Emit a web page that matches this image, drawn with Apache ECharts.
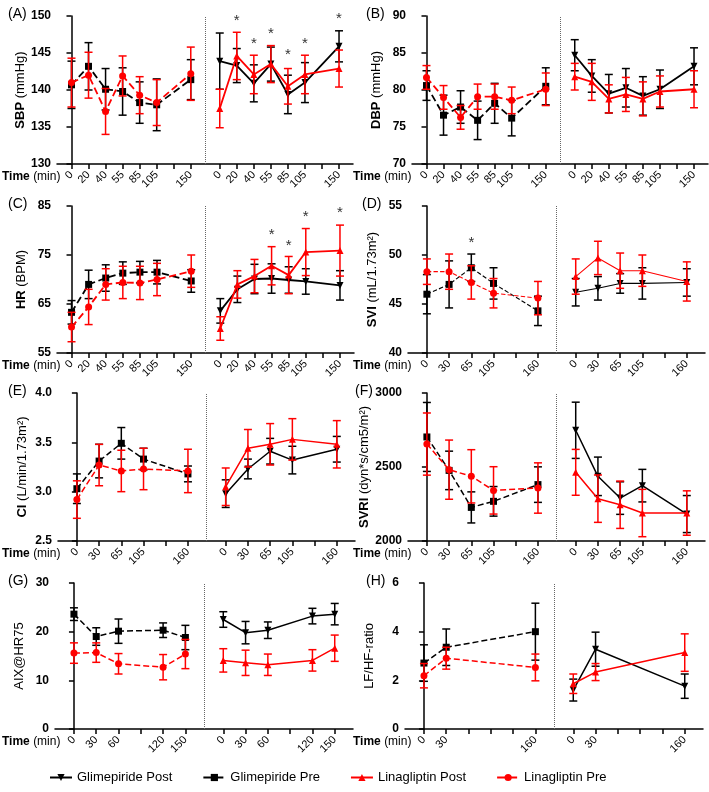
<!DOCTYPE html>
<html><head><meta charset="utf-8">
<script src="https://cdn.jsdelivr.net/npm/echarts@6/dist/echarts.min.js"></script>
<style>html,body{margin:0;padding:0;background:#fff}#c{width:709px;height:792px}</style>
</head><body><div id="c"></div>
<script>
// ---------- categories / tick labels ----------
const timesBP   = ['0','20','40','55','85','105','','150'];
const timesHemo = ['0','30','65','105','','160'];
const timesAix  = ['0','30','60','','120','150'];
const timesLfhf = ['0','30','','','','160'];

// ---------- (A) SBP ----------
const sbpGlimPre     = [140.7, 143.2, 140.1, 139.8, 138.3, 138.0, null, 141.4];
const sbpGlimPreErr  = [3.2, 3.2, 2.8, 3.2, 2.8, 3.5, null, 2.7];
const sbpLinaPre     = [141.0, 142.0, 137.1, 141.9, 139.3, 138.3, null, 142.2];
const sbpLinaPreErr  = [3.3, 3.1, 3.1, 2.7, 2.5, 3.1, null, 3.6];
const sbpGlimPost    = [143.9, 143.3, 140.9, 143.5, 139.4, 141.0, null, 145.9];
const sbpGlimPostErr = [3.8, 2.3, 2.5, 2.3, 2.6, 2.7, null, 2.1];
const sbpLinaPost    = [137.5, 144.6, 142.1, 143.5, 140.5, 142.1, null, 142.9];
const sbpLinaPostErr = [2.6, 3.2, 2.6, 2.5, 2.4, 2.6, null, 2.5];
const sbpStarsPost   = [null, 149.3, 146.3, 147.6, 144.7, 146.3, null, 149.6];

// ---------- (B) DBP ----------
const dbpGlimPre     = [80.6, 76.6, 77.7, 75.9, 78.2, 76.2, null, 80.5];
const dbpGlimPreErr  = [2.0, 2.7, 2.2, 2.6, 2.7, 2.4, null, 2.5];
const dbpLinaPre     = [81.7, 79.0, 76.3, 79.1, 79.1, 78.6, null, 80.1];
const dbpLinaPreErr  = [1.6, 1.6, 1.6, 1.7, 1.7, 1.8, null, 2.2];
const dbpGlimPost    = [84.7, 81.9, 79.5, 80.3, 79.2, 80.1, null, 83.2];
const dbpGlimPostErr = [2.1, 2.2, 2.6, 2.6, 2.6, 2.6, null, 2.5];
const dbpLinaPost    = [81.8, 81.1, 78.8, 79.4, 78.8, 79.8, null, 80.1];
const dbpLinaPostErr = [1.8, 2.5, 1.9, 2.3, 2.3, 2.1, null, 2.5];

// ---------- (C) HR ----------
const hrGlimPre      = [63.3, 69.0, 70.3, 71.3, 71.5, 71.5, null, 69.7];
const hrGlimPreErr   = [2.4, 2.9, 2.7, 2.3, 2.2, 2.4, null, 2.3];
const hrLinaPre      = [60.3, 64.4, 69.0, 69.4, 69.3, 70.0, null, 71.7];
const hrLinaPreErr   = [3.0, 3.6, 3.2, 3.3, 3.4, 3.3, null, 3.3];
const hrGlimPost     = [63.6, 68.0, 70.1, 70.2, 69.9, 69.6, null, 68.8];
const hrGlimPostErr  = [2.5, 2.7, 3.0, 3.0, 2.7, 2.6, null, 3.0];
const hrLinaPost     = [60.0, 69.0, 70.7, 72.8, 70.9, 75.6, null, 75.9];
const hrLinaPostErr  = [2.4, 2.8, 3.4, 3.9, 3.8, 4.8, null, 5.2];
const hrStarsPost    = [null, null, null, 79.2, 76.8, 82.7, null, 83.5];

// ---------- (D) SVI ----------
const sviGlimPre     = [46.0, 47.0, 48.7, 47.1, null, 44.3];
const sviGlimPreErr  = [2.0, 2.4, 1.4, 1.6, null, 1.5];
const sviLinaPre     = [48.3, 48.3, 47.2, 46.1, null, 45.6];
const sviLinaPreErr  = [1.3, 1.8, 1.7, 1.5, null, 1.7];
const sviGlimPost    = [46.2, 46.6, 47.1, 47.1, null, 47.2];
const sviGlimPostErr = [1.4, 1.2, 1.0, 1.6, null, 1.4];
const sviLinaPost    = [47.8, 49.7, 48.4, 48.4, null, 47.3];
const sviLinaPostErr = [1.8, 1.7, 1.8, 1.6, null, 2.0];
const sviStarsPre    = [null, null, 51.2, null, null, null];

// ---------- (E) CI ----------
const ciGlimPre      = [3.03, 3.31, 3.49, 3.33, null, 3.18];
const ciGlimPreErr   = [0.15, 0.17, 0.16, 0.11, null, 0.08];
const ciLinaPre      = [2.92, 3.27, 3.21, 3.23, null, 3.21];
const ciLinaPreErr   = [0.19, 0.21, 0.21, 0.21, null, 0.22];
const ciGlimPost     = [2.98, 3.23, 3.41, 3.32, null, 3.43];
const ciGlimPostErr  = [0.14, 0.10, 0.13, 0.14, null, 0.13];
const ciLinaPost     = [3.05, 3.44, 3.48, 3.53, null, 3.48];
const ciLinaPostErr  = [0.19, 0.19, 0.21, 0.21, null, 0.24];

// ---------- (F) SVRI ----------
const svriGlimPre     = [2703, 2477, 2227, 2268, null, 2381];
const svriGlimPreErr  = [233, 130, 105, 100, null, 120];
const svriLinaPre     = [2655, 2482, 2437, 2342, null, 2358];
const svriLinaPreErr  = [210, 200, 180, 160, null, 170];
const svriGlimPost    = [2748, 2437, 2290, 2374, null, 2182];
const svriGlimPostErr = [190, 130, 110, 110, null, 125];
const svriLinaPost    = [2464, 2286, 2245, 2189, null, 2189];
const svriLinaPostErr = [155, 160, 160, 160, null, 150];

// ---------- (G) AIX@HR75 ----------
const aixGlimPre     = [23.6, 19.0, 20.1, null, 20.3, 18.8];
const aixGlimPreErr  = [1.3, 1.8, 2.5, null, 1.5, 2.5];
const aixLinaPre     = [15.6, 15.7, 13.4, null, 12.7, 15.4];
const aixLinaPreErr  = [2.1, 2.0, 2.1, null, 2.6, 3.0];
const aixGlimPost    = [22.5, 19.8, 20.3, null, 23.2, 23.6];
const aixGlimPostErr = [1.6, 2.3, 1.7, null, 1.6, 2.2];
const aixLinaPost    = [14.1, 13.6, 13.2, null, 14.1, 16.6];
const aixLinaPostErr = [2.4, 2.6, 2.2, null, 2.2, 2.7];

// ---------- (H) LF/HF ----------
const lfGlimPre      = [2.71, 3.36, null, null, null, 4.0];
const lfGlimPreErr   = [0.75, 0.75, null, null, null, 1.17];
const lfLinaPre      = [2.19, 2.91, null, null, null, 2.53];
const lfLinaPreErr   = [0.5, 0.45, null, null, null, 0.55];
const lfGlimPost     = [1.6, 3.28, null, null, null, 1.76];
const lfGlimPostErr  = [0.45, 0.7, null, null, null, 0.5];
const lfLinaPost     = [1.86, 2.34, null, null, null, 3.14];
const lfLinaPostErr  = [0.4, 0.35, null, null, null, 0.77];

const seriesNames = ['Glimepiride Post', 'Glimepiride Pre', 'Linagliptin Post', 'Linagliptin Pre'];

// ---------- panel configuration ----------
const panels = [
  {letter:'(A)', lx:8, grid:[57,16,296,148], times:timesBP, y:[130,150,5], yName:'{b|SBP} (mmHg)', lw:1.8,
   d:[[sbpGlimPost,sbpGlimPostErr],[sbpGlimPre,sbpGlimPreErr],[sbpLinaPost,sbpLinaPostErr],[sbpLinaPre,sbpLinaPreErr]], stars:[sbpStarsPost,'post']},
  {letter:'(B)', lx:366, grid:[412,16,296,148], times:timesBP, y:[70,90,5], yName:'{b|DBP} (mmHg)', lw:1.8,
   d:[[dbpGlimPost,dbpGlimPostErr],[dbpGlimPre,dbpGlimPreErr],[dbpLinaPost,dbpLinaPostErr],[dbpLinaPre,dbpLinaPreErr]]},
  {letter:'(C)', lx:8, grid:[57,206,297,147], times:timesBP, y:[55,85,10], yName:'{b|HR} (BPM)', lw:1.8,
   d:[[hrGlimPost,hrGlimPostErr],[hrGlimPre,hrGlimPreErr],[hrLinaPost,hrLinaPostErr],[hrLinaPre,hrLinaPreErr]], stars:[hrStarsPost,'post']},
  {letter:'(D)', lx:362, grid:[408,206,297,147], times:timesHemo, y:[40,55,5], yName:'{b|SVI} (mL/1.73m²)', lw:1.1,
   d:[[sviGlimPost,sviGlimPostErr],[sviGlimPre,sviGlimPreErr],[sviLinaPost,sviLinaPostErr],[sviLinaPre,sviLinaPreErr]], stars:[sviStarsPre,'pre']},
  {letter:'(E)', lx:8, grid:[58,393,297,148], times:timesHemo, y:[2.5,4,0.5], yName:'{b|CI} (L/min/1.73m²)', lw:1.5, dec:1,
   d:[[ciGlimPost,ciGlimPostErr],[ciGlimPre,ciGlimPreErr],[ciLinaPost,ciLinaPostErr],[ciLinaPre,ciLinaPreErr]]},
  {letter:'(F)', lx:355, grid:[408,393,297,148], times:timesHemo, y:[2000,3000,500], yName:'{b|SVRI} (dyn*s/cm5/m²)', lw:1.5,
   d:[[svriGlimPost,svriGlimPostErr],[svriGlimPre,svriGlimPreErr],[svriLinaPost,svriLinaPostErr],[svriLinaPre,svriLinaPreErr]]},
  {letter:'(G)', lx:8, grid:[55,583,298,146], times:timesAix, y:[0,30,10], yName:'AIX@HR75', lw:1.5,
   d:[[aixGlimPost,aixGlimPostErr],[aixGlimPre,aixGlimPreErr],[aixLinaPost,aixLinaPostErr],[aixLinaPre,aixLinaPreErr]]},
  {letter:'(H)', lx:366, grid:[405,583,298,146], times:timesLfhf, y:[0,6,2], yName:'LF/HF-ratio', lw:1.5,
   d:[[lfGlimPost,lfGlimPostErr],[lfGlimPre,lfGlimPreErr],[lfLinaPost,lfLinaPostErr],[lfLinaPre,lfLinaPreErr]]}
];

const FONT = '"Liberation Sans", Arial, sans-serif';
const styles = [
  {color:'#000', type:'solid',  symbol:'path://M0,0 L10,0 L5,9 Z', side:'post', z:3},
  {color:'#000', type:'dashed', symbol:'rect',     side:'pre',  z:3},
  {color:'#ff0000', type:'solid',  symbol:'triangle', side:'post', z:4},
  {color:'#ff0000', type:'dashed', symbol:'circle',   side:'pre',  z:4}
];

function posOf(i, side, n) { return side === 'pre' ? i : n + 0.7 + i; }

function errRenderer(color) {
  return function (params, api) {
    const x = api.value(0), lo = api.value(1), hi = api.value(2);
    const t = api.coord([x, hi]), b = api.coord([x, lo]);
    const w = 4;
    const st = {stroke: color, lineWidth: 1.5, fill: null};
    return {type:'group', children:[
      {type:'line', shape:{x1:t[0], y1:t[1], x2:b[0], y2:b[1]}, style:st},
      {type:'line', shape:{x1:t[0]-w, y1:t[1], x2:t[0]+w, y2:t[1]}, style:st},
      {type:'line', shape:{x1:b[0]-w, y1:b[1], x2:b[0]+w, y2:b[1]}, style:st}
    ]};
  };
}
function starRenderer(params, api) {
  const p = api.coord([api.value(0), api.value(1)]);
  return {type:'text', x:p[0], y:p[1], style:{text:'*', fill:'#333', font:'15px ' + FONT, align:'center', verticalAlign:'middle'}};
}

const grid = [], xAxis = [], yAxis = [], series = [], graphic = [];

panels.forEach((p, k) => {
  const n = p.times.length;
  grid.push({left:p.grid[0], top:p.grid[1], width:p.grid[2], height:p.grid[3], containLabel:false});
  const tickPos = [], labPos = [], labTxt = [];
  for (const side of ['pre','post']) {
    p.times.forEach((t, i) => {
      const v = posOf(i, side, n);
      tickPos.push(v);
      if (t !== '') { labPos.push(v); labTxt.push(t); }
    });
  }
  xAxis.push({
    type:'value', gridIndex:k, min:-0.85, max: n + 0.7 + (n - 1) + 0.82,
    axisLine:{show:true, onZero:false, lineStyle:{color:'#000', width:1.5}},
    axisTick:{show:true, customValues:tickPos, length:5, lineStyle:{color:'#000', width:1.5}},
    axisLabel:{show:true, customValues:labPos, rotate:45, fontSize:11, color:'#000', fontFamily:FONT, margin:9,
      formatter: v => { const j = labPos.findIndex(q => Math.abs(q - v) < 0.01); return j >= 0 ? labTxt[j] : ''; }},
    splitLine:{show:false}
  });
  yAxis.push({
    type:'value', gridIndex:k, min:p.y[0], max:p.y[1], interval:p.y[2],
    axisLine:{show:true, lineStyle:{color:'#000', width:1.5}},
    axisTick:{show:true, length:5, lineStyle:{color:'#000', width:1.5}},
    axisLabel:{fontSize:12, fontWeight:'bold', color:'#000', fontFamily:FONT, margin:6,
      formatter: v => p.dec ? v.toFixed(p.dec) : String(v)},
    splitLine:{show:false},
    name:p.yName, nameLocation:'middle', nameGap:29,
    nameTextStyle:{fontSize:13, color:'#000', fontFamily:FONT, rich:{b:{fontSize:13, fontWeight:'bold', color:'#000', fontFamily:FONT}}}
  });

  p.d.forEach((pair, s) => {
    const st = styles[s];
    const mean = pair[0], err = pair[1];
    const pts = [], bars = [];
    mean.forEach((m, i) => {
      if (m == null) return;
      const x = posOf(i, st.side, n);
      pts.push([x, m]);
      bars.push([x, m - err[i], m + err[i]]);
    });
    series.push({
      type:'custom', name:seriesNames[s] + ' SEM', xAxisIndex:k, yAxisIndex:k, z:st.z,
      renderItem: errRenderer(st.color), data:bars, encode:{x:0, y:[1,2]}, silent:true
    });
    const ser = {
      type:'line', name:seriesNames[s], xAxisIndex:k, yAxisIndex:k, z:st.z,
      data:pts, symbol:st.symbol, symbolSize:7,
      showAllSymbol:true,
      lineStyle:{color:st.color, width:p.lw, type:st.type},
      itemStyle:{color:st.color, borderWidth:0},
      emphasis:{disabled:true}
    };
    if (s === 0) {
      ser.markLine = {silent:true, symbol:['none','none'], label:{show:false},
        lineStyle:{type:'dotted', color:'#666', width:1}, data:[{xAxis: n - 0.16}]};
    }
    series.push(ser);
  });

  if (p.stars) {
    const arr = p.stars[0], side = p.stars[1];
    const sd = [];
    arr.forEach((v, i) => { if (v != null) sd.push([posOf(i, side, n), v]); });
    series.push({type:'custom', name:'sig', xAxisIndex:k, yAxisIndex:k, z:5, silent:true,
      renderItem: starRenderer, data: sd, encode:{x:0, y:1}});
  }

  const isLeft = p.grid[0] < 200;
  graphic.push({type:'text', left: p.lx, top: p.grid[1] - 9,
    style:{text:p.letter, font:'14px ' + FONT, fill:'#000'}});
  graphic.push({type:'text', left: isLeft ? 2 : 353, top: p.grid[1] + p.grid[3] + 7,
    style:{text:'{b|Time} (min)', font:'12px ' + FONT, fill:'#000',
      rich:{b:{font:'bold 12px ' + FONT, fill:'#000'}}}});
});

const chart = echarts.init(document.getElementById('c'), null, {renderer:'canvas'});
chart.setOption({
  animation:false,
  backgroundColor:'#fff',
  textStyle:{fontFamily:FONT},
  grid, xAxis, yAxis, series, graphic,
  legend:{data:seriesNames, top:766, left:44, itemGap:30, itemWidth:22, itemHeight:9,
    textStyle:{fontSize:13, color:'#000', fontFamily:FONT}}
});
</script></body></html>
